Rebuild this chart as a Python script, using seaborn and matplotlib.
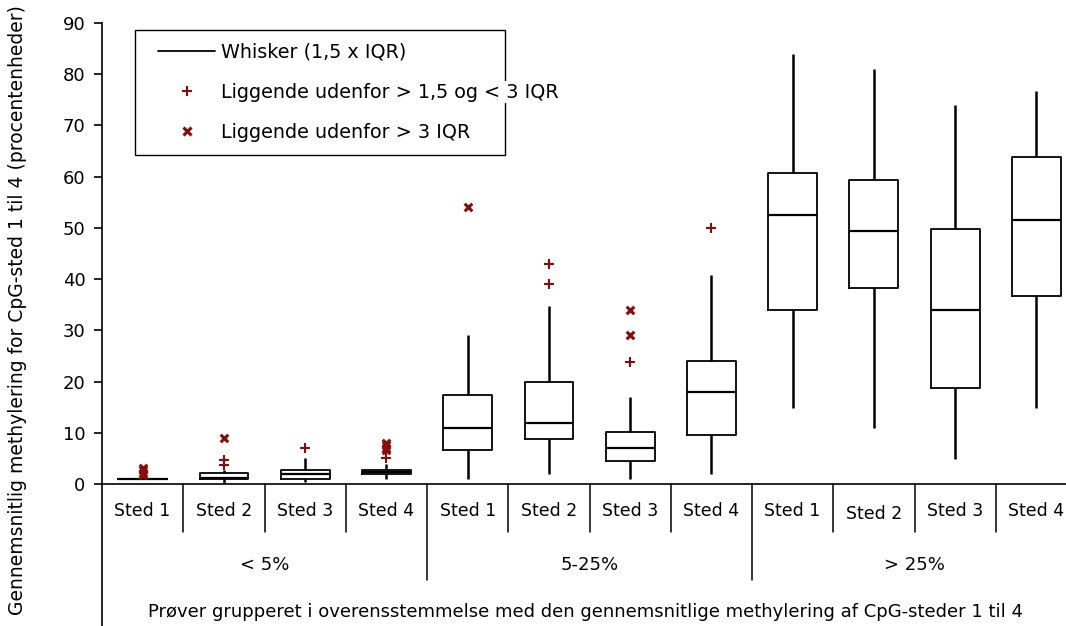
import numpy as np
import pandas as pd
import matplotlib.pyplot as plt
import matplotlib.transforms as mtransforms
from matplotlib.lines import Line2D
from matplotlib.patches import Rectangle
import seaborn as sns

sns.set_style("white")
plt.rcParams['font.family'] = ['DejaVu Sans']
plt.rcParams['text.color'] = 'black'

# grupper og steder
groups = ['< 5%', '5-25%', '> 25%']
sites = ['Sted 1', 'Sted 2', 'Sted 3', 'Sted 4']

# fem-tal-opsummering pr. boks
whisker_low = [1.0, 0.2, 0.3, 1.0, 0.9, 1.9, 0.9, 1.9, 14.8, 10.9, 4.8, 14.8]
q1 = [1.0, 1.0, 1.0, 2.0, 6.6, 8.8, 4.5, 9.5, 34.0, 38.3, 18.7, 36.8]
median = [1.0, 1.2, 1.9, 2.3, 10.9, 12.0, 7.1, 18.0, 52.6, 49.3, 34.0, 51.5]
q3 = [1.0, 2.1, 2.8, 2.8, 17.3, 19.9, 10.2, 24.1, 60.7, 59.3, 49.7, 63.9]
whisker_high = [1.0, 2.8, 5.0, 4.0, 29.1, 34.8, 17.0, 40.8, 83.9, 81.0, 73.9, 76.8]

# outliers
mild_pos = [1, 1, 2, 3, 5, 5, 6, 7]
mild_val = [3.7, 4.7, 7.1, 5.0, 43.0, 39.0, 23.8, 50.0]
extreme_pos = [0, 0, 0, 0, 1, 3, 3, 3, 3, 4, 6, 6]
extreme_val = [1.7, 2.2, 2.7, 3.1, 9.0, 6.6, 7.1, 7.6, 8.0, 54.0, 34.0, 29.1]

red = '#8b0a0a'

# long-form data: fem punkter pr. boks giver præcis q1/median/q3 med whis=(0,100)
rows = []
for i in range(len(median)):
    for v in (whisker_low[i], q1[i], median[i], q3[i], whisker_high[i]):
        rows.append({'pos': i, 'value': v})
box_df = pd.DataFrame(rows)

fig = plt.figure(figsize=(10.66, 6.26), dpi=100)
ax = fig.add_axes([102 / 1066, 142 / 626, 975 / 1066, 461 / 626])

sns.boxplot(data=box_df, x='pos', y='value', native_scale=True, orient='x',
            whis=(0, 100), showfliers=False, showcaps=False, fill=False,
            color='black', linewidth=1.3, width=0.6, ax=ax,
            whiskerprops={'linewidth': 1.8}, medianprops={'linewidth': 1.6})

sns.scatterplot(x=mild_pos, y=mild_val, marker='+', s=50, color=red,
                linewidth=1.5, ax=ax, zorder=5)
sns.scatterplot(x=extreme_pos, y=extreme_val, marker='x', s=30, color=red,
                linewidth=2.2, ax=ax, zorder=5)

# akser
for s in ['top', 'right']:
    ax.spines[s].set_visible(False)
for s in ['left', 'bottom']:
    ax.spines[s].set_color('black')
    ax.spines[s].set_linewidth(1.2)
ax.set_xticks([])
ax.set_yticks(range(0, 91, 10))
ax.tick_params(axis='y', left=True, direction='out', length=6, width=1.2,
               labelsize=13, pad=6, colors='black')
ax.set_xlabel('')
ax.set_ylabel('')

# kategoritabel under x-aksen
trans = mtransforms.blended_transform_factory(ax.transData, ax.transAxes)
for k in range(11):
    x = k + 0.5
    ymin = -0.208 if k in (3, 7) else -0.104
    ax.plot([x, x], [0, ymin], transform=trans, clip_on=False, color='black', lw=1.1)
ax.plot([-0.5, -0.5], [0, -0.31], transform=trans, clip_on=False, color='black', lw=1.2)

for i in range(12):
    yy = -0.066 if i == 9 else -0.0586
    ax.text(i, yy, sites[i % 4], transform=trans, ha='center', va='center',
            fontsize=12.5)
for g, name in enumerate(groups):
    ax.text(1.5 + 4 * g, -0.176, name, transform=trans, ha='center', va='center',
            fontsize=13)

ax.set_xlim(-0.5, 11.5)
ax.set_ylim(0, 90)

fig.text(585 / 1066, (626 - 612) / 626,
         'Prøver grupperet i overensstemmelse med den gennemsnitlige methylering af CpG-steder 1 til 4',
         ha='center', va='center', fontsize=13)
fig.text(18 / 1066, (626 - 310) / 626,
         'Gennemsnitlig methylering for CpG-sted 1 til 4 (procentenheder)',
         rotation=90, ha='center', va='center', fontsize=13.5)

# forklaring: ramme tegnes for sig, teksten går ud over rammen som i originalen
frame = Rectangle((135 / 1066, (626 - 155) / 626), 370 / 1066, 125 / 626,
                  transform=fig.transFigure, fill=True, facecolor='white',
                  edgecolor='black', lw=1.0, zorder=3)
fig.add_artist(frame)

handles = [Line2D([0], [0], color='black', lw=1.3),
           Line2D([0], [0], ls='none', marker='+', color=red, ms=7, mew=1.5),
           Line2D([0], [0], ls='none', marker='x', color=red, ms=5.5, mew=2.2)]
labels = ['Whisker (1,5 x IQR)', 'Liggende udenfor > 1,5 og < 3 IQR',
          'Liggende udenfor > 3 IQR']
leg = fig.legend(handles, labels, loc='upper left',
                 bbox_to_anchor=(152 / 1066, 589 / 626), bbox_transform=fig.transFigure,
                 frameon=False, borderaxespad=0, handlelength=3.0, handletextpad=0.3,
                 labelspacing=1.1, borderpad=0.3, fontsize=13.8)
leg.set_zorder(4)
for t in leg.get_texts():
    t.set_color('black')
    t.set_bbox(dict(facecolor='white', edgecolor='none', pad=1))

fig.savefig('out.png', dpi=100)
